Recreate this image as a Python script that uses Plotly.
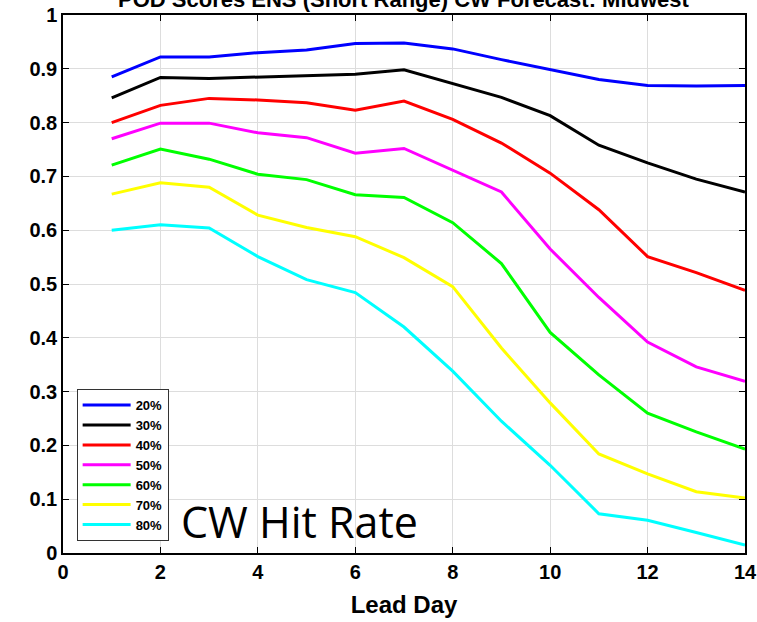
import plotly.graph_objects as go

lead_days = list(range(1, 15))
series_names = ["20%", "30%", "40%", "50%", "60%", "70%", "80%"]
colors = ["#0000ff", "#000000", "#ff0000", "#ff00ff", "#00ff00", "#ffff00", "#00ffff"]

pod_20 = [0.885, 0.922, 0.922, 0.930, 0.935, 0.947, 0.948, 0.937, 0.917, 0.898, 0.880, 0.869, 0.868, 0.869]
pod_30 = [0.846, 0.884, 0.882, 0.885, 0.888, 0.890, 0.898, 0.872, 0.847, 0.813, 0.758, 0.725, 0.695, 0.671]
pod_40 = [0.800, 0.832, 0.845, 0.842, 0.837, 0.823, 0.840, 0.806, 0.762, 0.706, 0.638, 0.551, 0.521, 0.488]
pod_50 = [0.770, 0.799, 0.799, 0.781, 0.772, 0.743, 0.752, 0.712, 0.671, 0.565, 0.475, 0.392, 0.346, 0.319]
pod_60 = [0.721, 0.751, 0.732, 0.704, 0.694, 0.666, 0.661, 0.614, 0.538, 0.410, 0.331, 0.260, 0.225, 0.193]
pod_70 = [0.667, 0.688, 0.680, 0.628, 0.605, 0.588, 0.549, 0.495, 0.381, 0.279, 0.184, 0.147, 0.114, 0.102]
pod_80 = [0.600, 0.610, 0.604, 0.551, 0.508, 0.484, 0.420, 0.338, 0.245, 0.163, 0.073, 0.061, 0.038, 0.015]

all_series = [pod_20, pod_30, pod_40, pod_50, pod_60, pod_70, pod_80]

x_ticks = [0, 2, 4, 6, 8, 10, 12, 14]
y_ticks = [0, 0.1, 0.2, 0.3, 0.4, 0.5, 0.6, 0.7, 0.8, 0.9, 1]
y_tick_text = ["0", "0.1", "0.2", "0.3", "0.4", "0.5", "0.6", "0.7", "0.8", "0.9", "1"]

title_text = "POD Scores ENS (Short Range) CW Forecast: Midwest"
x_title = "Lead Day"
note_text = "CW Hit Rate"

fig = go.Figure()
for name, vals, c in zip(series_names, all_series, colors):
    fig.add_trace(go.Scatter(x=lead_days, y=vals, mode="lines", name=name,
                             line=dict(color=c, width=3)))

tick_font = dict(family="Liberation Sans, Arial", size=20, color="black", weight="bold")

fig.update_layout(
    width=757, height=622,
    margin=dict(l=63, r=12, t=15, b=69, autoexpand=False),
    paper_bgcolor="white", plot_bgcolor="white",
    showlegend=True,
    legend=dict(x=0.02, y=0.022, xanchor="left", yanchor="bottom",
                bgcolor="white", bordercolor="#333333", borderwidth=1,
                font=dict(family="Liberation Sans, Arial", size=13, color="black", weight="bold"),
                tracegroupgap=0, itemwidth=48),
    xaxis=dict(range=[0, 14], tickvals=x_ticks, ticks="inside", ticklen=6, tickcolor="black",
               showgrid=True, gridcolor="#dddddd", gridwidth=1, zeroline=False,
               showline=True, linecolor="black", linewidth=1.5, mirror="ticks",
               tickfont=tick_font, automargin=False,
               title=dict(text=x_title, standoff=14,
                          font=dict(family="Liberation Sans, Arial", size=24, color="black", weight="bold"))),
    yaxis=dict(range=[0, 1], tickvals=y_ticks, ticktext=y_tick_text, ticks="inside", ticklen=6, tickcolor="black",
               showgrid=True, gridcolor="#dddddd", gridwidth=1, zeroline=False,
               showline=True, linecolor="black", linewidth=1.5, mirror="ticks",
               tickfont=tick_font, automargin=False),
)

fig.add_annotation(text=title_text, xref="paper", yref="paper", x=0.5, y=1.0, yshift=16,
                   xanchor="center", yanchor="middle", showarrow=False,
                   font=dict(family="Liberation Sans, Arial", size=22, color="black", weight="bold"))
fig.add_annotation(text=note_text, xref="paper", yref="paper", x=0.17, y=0.0, yshift=0,
                   xanchor="left", yanchor="bottom", showarrow=False,
                   font=dict(family="Open Sans, Noto Sans", size=43, color="black"))

fig.write_html("out.html", config={"displayModeBar": False},
               post_script="document.body.style.margin='0';document.body.style.overflow='hidden';")
